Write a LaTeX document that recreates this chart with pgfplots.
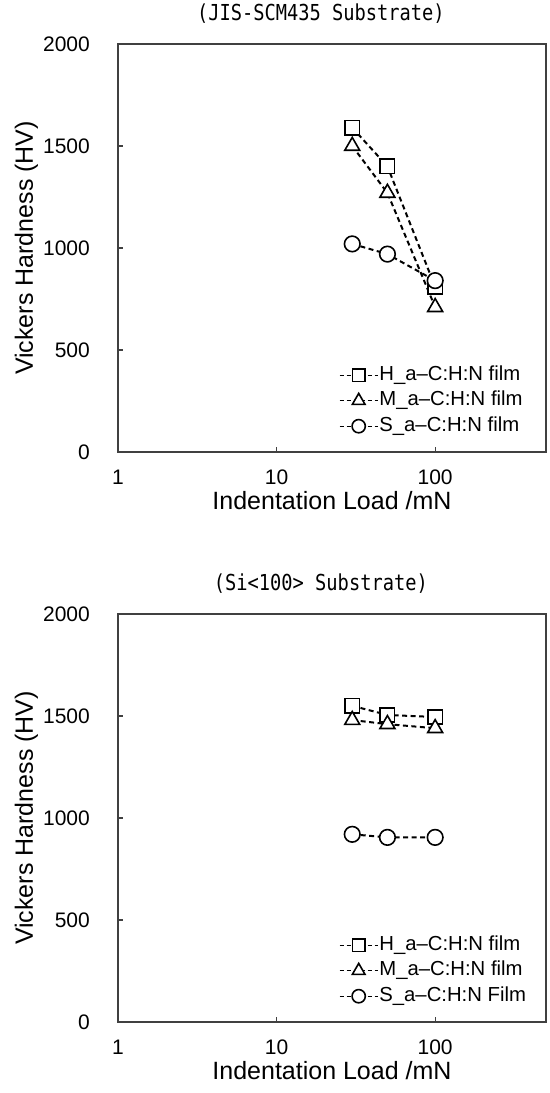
\documentclass[border=0pt]{standalone}
\usepackage{fontspec}
\setmainfont{Liberation Sans}
\newfontfamily\titlefont[FakeStretch=0.85]{DejaVu Sans Mono}
\usepackage{pgfplots}
\pgfplotsset{compat=1.18}

\pgfplotsset{
  hardness/.style={
    scale only axis, width=428bp, height=408bp,
    xmin=1, xmax=500, ymin=0, ymax=2000,
    xtick={1,10,100}, xticklabels={1,10,100}, xminorticks=false,
    ytick={0,500,1000,1500,2000}, yticklabels={0,500,1000,1500,2000},
    xtick pos=bottom, ytick pos=left, tick align=inside,
    major tick length=5bp,
    tick style={black!75, line width=1.2bp},
    axis line style={black!75, line width=1.8bp},
    ticklabel style={font=\fontsize{21bp}{25bp}\selectfont, inner sep=0pt},
    xticklabel style={anchor=north, yshift=-18bp},
    yticklabel style={anchor=east, xshift=-28bp},
    /pgf/number format/assume math mode=true,
    xlabel={Indentation Load /mN},
    ylabel={Vickers Hardness (HV)},
    xlabel style={font=\fontsize{25bp}{29bp}\selectfont,
      at={(axis description cs:0.5,-0.142)}, anchor=base},
    ylabel style={font=\fontsize{25bp}{29bp}\selectfont,
      at={(axis description cs:-0.199,0.5)}, anchor=base},
    title style={at={(axis description cs:0.474,1.042)}, anchor=base,
      font=\titlefont\fontsize{22bp}{26bp}\selectfont},
    clip=false,
    legend cell align=left,
    legend style={draw=none, fill=none, inner sep=0pt,
      at={(axis description cs:0.516,0.037)}, anchor=south west,
      font=\fontsize{20.3bp}{24bp}\selectfont,
      nodes={text height=14.5bp, text depth=4.5bp, inner sep=1bp},
      row sep=4.5bp},
  },
  series/.style={black, line width=2bp, dash pattern=on 5bp off 3.5bp,
    legend image code/.code={
      \draw[line width=1.3bp, dash pattern=on 4bp off 3bp,
            mark repeat=2, mark phase=2,
            every mark/.append style={scale=0.85}]
        plot coordinates {(0bp,0bp) (19bp,0bp) (38bp,0bp)};
    }},
  hmark/.style={series, mark=square*, mark options={solid, fill=white, line width=1.6bp, mark size=7.2bp}},
  mmark/.style={series, mark=triangle*, mark options={solid, fill=white, line width=1.6bp, mark size=8.6bp}},
  smark/.style={series, mark=*, mark options={solid, fill=white, line width=1.6bp, mark size=7.8bp}},
}

\begin{document}
\begin{tikzpicture}
\useasboundingbox (0,0) rectangle (550bp,1093bp);

% JIS-SCM435 steel substrate
\begin{semilogxaxis}[hardness, at={(118bp,641bp)}, anchor=south west,
  title={(JIS-SCM435 Substrate)}]
\addplot[hmark] coordinates {(30,1590) (50,1400) (100,810)};
\addlegendentry{H\_a\textendash C:H:N film}
\addplot[mmark] coordinates {(30,1500) (50,1270) (100,710)};
\addlegendentry{M\_a\textendash C:H:N film}
\addplot[smark] coordinates {(30,1020) (50,970) (100,840)};
\addlegendentry{S\_a\textendash C:H:N film}
\end{semilogxaxis}

% Si(100) wafer substrate
\begin{semilogxaxis}[hardness, at={(118bp,71bp)}, anchor=south west,
  title={(Si<100> Substrate)}]
\addplot[hmark] coordinates {(30,1550) (50,1505) (100,1495)};
\addlegendentry{H\_a\textendash C:H:N film}
\addplot[mmark] coordinates {(30,1480) (50,1460) (100,1440)};
\addlegendentry{M\_a\textendash C:H:N film}
\addplot[smark] coordinates {(30,920) (50,905) (100,905)};
\addlegendentry{S\_a\textendash C:H:N Film}
\end{semilogxaxis}
\end{tikzpicture}
\end{document}
